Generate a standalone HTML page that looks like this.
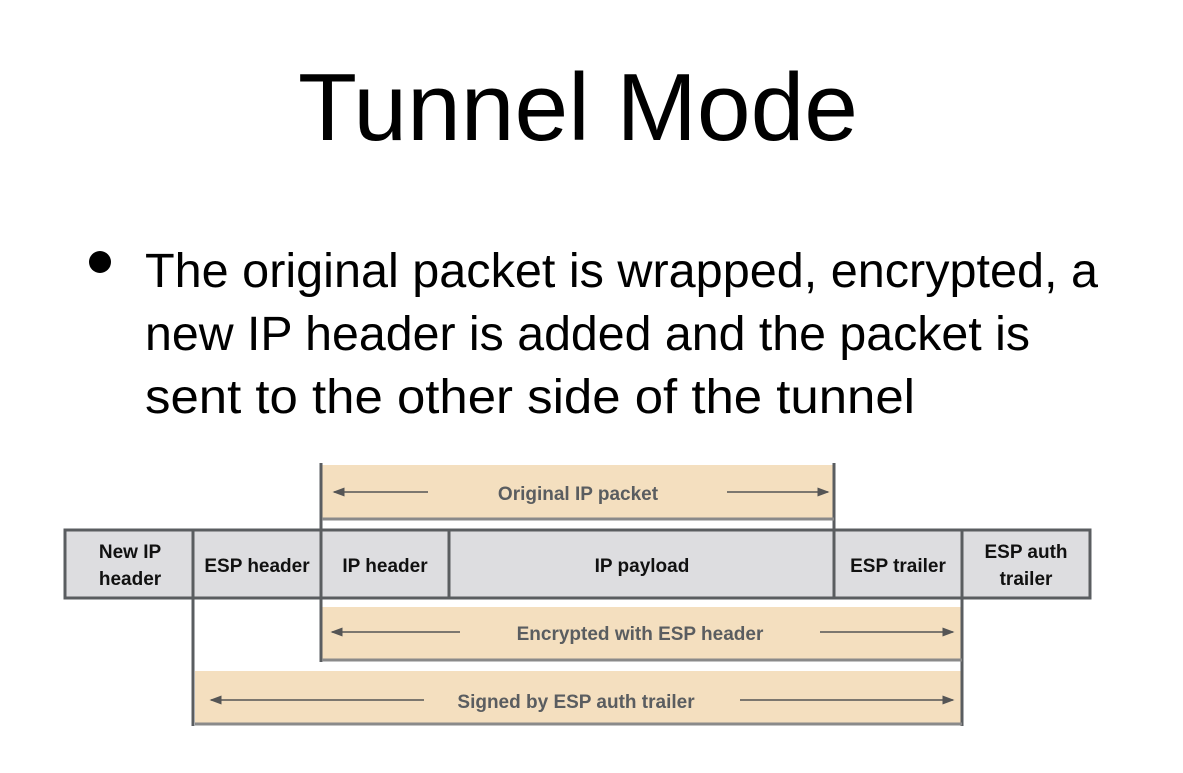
<!DOCTYPE html>
<html><head><meta charset="utf-8"><style>
body{margin:0;width:1183px;height:773px;background:#fff;position:relative;overflow:hidden;font-family:"Liberation Sans",sans-serif;}
.dot{position:absolute;left:89px;top:251px;width:22px;height:22px;border-radius:50%;background:#000}
</style></head><body>
<div class="dot"></div>
<svg width="1183" height="773" style="position:absolute;left:0;top:0" font-family="Liberation Sans, sans-serif">
<text x="298" y="140" font-size="96" textLength="560" lengthAdjust="spacingAndGlyphs">Tunnel Mode</text>
<g font-size="48">
<text x="145" y="287" textLength="953" lengthAdjust="spacingAndGlyphs">The original packet is wrapped, encrypted, a</text>
<text x="145" y="350" textLength="885" lengthAdjust="spacingAndGlyphs">new IP header is added and the packet is</text>
<text x="145" y="413" textLength="770" lengthAdjust="spacingAndGlyphs">sent to the other side of the tunnel</text>
</g>
<g font-weight="bold">
<defs><marker id="a" markerWidth="8" markerHeight="6" refX="7" refY="3" orient="auto"><path d="M0,0L8,3L0,6z" fill="#555"/></marker></defs>
<g fill="#f4dfbf">
<rect x="322" y="465" width="512" height="54"/>
<rect x="322" y="607" width="640" height="53"/>
<rect x="195" y="671" width="767" height="53"/>
</g>
<rect x="65" y="530" width="1025" height="68" fill="#dddde0" stroke="#5a5d60" stroke-width="3"/>
<g stroke="#5a5d60" stroke-width="3" fill="none">
<line x1="193" y1="530" x2="193" y2="726"/>
<line x1="321" y1="463" x2="321" y2="598"/>
<line x1="321" y1="598" x2="321" y2="662"/>
<line x1="449" y1="530" x2="449" y2="598"/>
<line x1="834" y1="463" x2="834" y2="598"/>
<line x1="962" y1="530" x2="962" y2="726"/>
</g>
<g stroke="#8a8a8a" stroke-width="3">
<line x1="322" y1="519" x2="834" y2="519"/>
<line x1="322" y1="660" x2="962" y2="660"/>
<line x1="195" y1="724" x2="962" y2="724"/>
</g>
<g stroke="#555" stroke-width="1.5" marker-end="url(#a)">
<line x1="428" y1="492" x2="334" y2="492"/>
<line x1="727" y1="492" x2="828" y2="492"/>
<line x1="460" y1="632" x2="332" y2="632"/>
<line x1="820" y1="632" x2="953" y2="632"/>
<line x1="424" y1="700" x2="211" y2="700"/>
<line x1="740" y1="700" x2="953" y2="700"/>
</g>
<g fill="#5a5d60" font-size="19" text-anchor="middle">
<text x="578" y="500">Original IP packet</text>
<text x="640" y="640">Encrypted with ESP header</text>
<text x="576" y="708">Signed by ESP auth trailer</text>
</g>
<g fill="#111" font-size="19" text-anchor="middle">
<text x="130" y="558">New IP</text><text x="130" y="585">header</text>
<text x="257" y="572">ESP header</text>
<text x="385" y="572">IP header</text>
<text x="642" y="572">IP payload</text>
<text x="898" y="572">ESP trailer</text>
<text x="1026" y="558">ESP auth</text><text x="1026" y="585">trailer</text>
</g>
</g>
</svg>
</body></html>
